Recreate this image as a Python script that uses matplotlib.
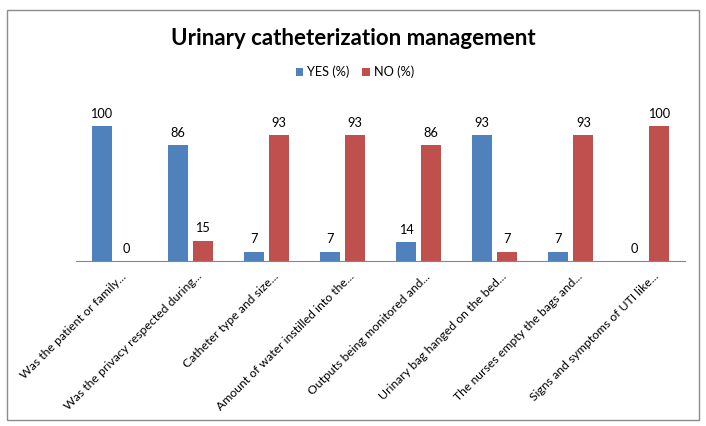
import matplotlib
matplotlib.use("Agg")
import matplotlib.pyplot as plt
import numpy as np
from matplotlib.patches import Rectangle

categories = [
    "Was the patient or family...",
    "Was the privacy respected during...",
    "Catheter type and size...",
    "Amount of water instilled into the...",
    "Outputs being monitored and...",
    "Urinary bag hanged on the bed...",
    "The nurses empty the bags and...",
    "Signs and symptoms of UTI like...",
]
yes_vals = [100, 86, 7, 7, 14, 93, 7, 0]
no_vals = [0, 15, 93, 93, 86, 7, 93, 100]
series_names = ["YES (%)", "NO (%)"]
colors = ["#4F81BD", "#C0504D"]

plt.rcParams['font.family'] = ['Lato', 'DejaVu Sans']

W, H = 706, 426
fig = plt.figure(figsize=(W / 100, H / 100), dpi=100)

# outer border
fig.patches.append(Rectangle((7 / W, 1 - 420 / H), (699 - 7) / W, (420 - 10) / H,
                             transform=fig.transFigure, fill=False,
                             edgecolor="#8C8C8C", linewidth=1.0))

left, right = 76, 685
base, top = 261, 126
ax = fig.add_axes([left / W, 1 - base / H, (right - left) / W, (base - top) / H])

x = np.arange(len(categories))
bw = 20 / 76
gap = 5 / 76
off = (bw + gap) / 2
b1 = ax.bar(x - off, yes_vals, bw, color=colors[0], label=series_names[0])
b2 = ax.bar(x + off, no_vals, bw, color=colors[1], label=series_names[1])
for bars, vals in ((b1, yes_vals), (b2, no_vals)):
    for rect, v in zip(bars, vals):
        ax.annotate(f"{v}", (rect.get_x() + rect.get_width() / 2, v),
                    xytext=(0, 4.5), textcoords="offset points",
                    ha="center", va="bottom", fontsize=9.2, color="#000000",
                    annotation_clip=False)

ax.set_xlim(-0.5, len(categories) - 0.5)
ax.set_ylim(0, 100)
for s in ("top", "right", "left"):
    ax.spines[s].set_visible(False)
ax.spines["bottom"].set_color("#868686")
ax.set_yticks([])
ax.set_xticks(x + 0.08)
ax.set_xticklabels(categories, rotation=45, ha="right", rotation_mode="anchor",
                   fontsize=8.8)
ax.tick_params(axis="x", length=0, pad=7)

fig.text(353 / W, 1 - 38.5 / H, "Urinary catheterization management",
         ha="center", va="center", fontsize=16, fontweight="bold")

fig.legend(handles=[b1, b2], labels=series_names, loc="center",
           bbox_to_anchor=(355 / W, 1 - 72 / H), ncol=2, frameon=False,
           fontsize=9.2, handlelength=0.6, handleheight=0.6,
           columnspacing=1.0, handletextpad=0.3)

fig.savefig("out.png", dpi=100)
